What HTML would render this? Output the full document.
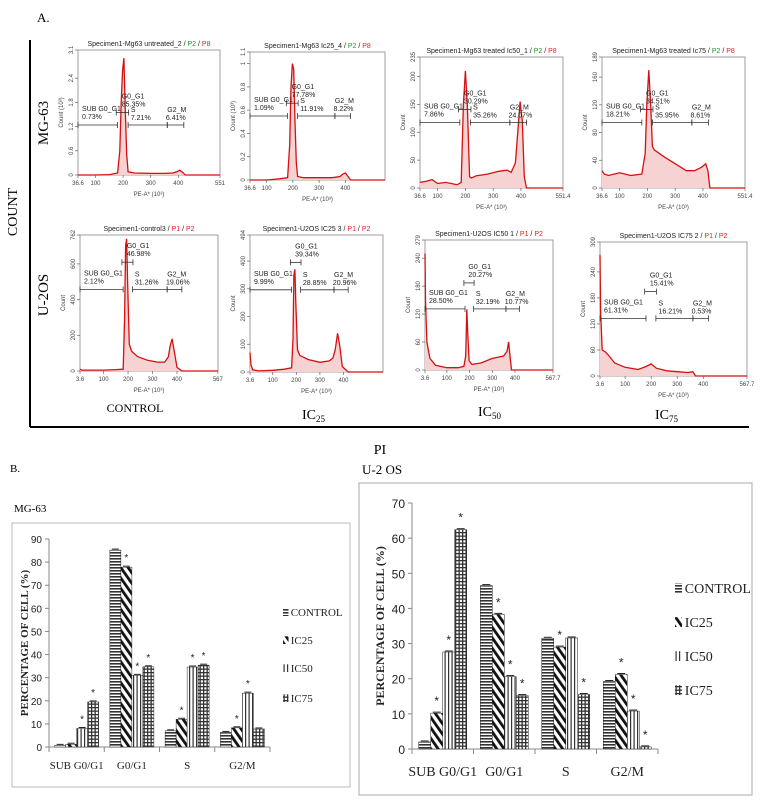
<!DOCTYPE html>
<html><head><meta charset="utf-8">
<style>
html,body{margin:0;padding:0;background:#fff;}
svg{display:block;font-family:"Liberation Sans",sans-serif;}
.serif{font-family:"Liberation Serif",serif;}
</style></head>
<body>
<svg id="fig" width="760" height="808" viewBox="0 0 760 808" xmlns="http://www.w3.org/2000/svg">
<defs>
<pattern id="pCtrl" width="4" height="3" patternUnits="userSpaceOnUse"><rect width="4" height="3" fill="#fff"/><rect width="4" height="1.6" fill="#333"/></pattern>
<pattern id="pIc25" width="6" height="6" patternUnits="userSpaceOnUse" patternTransform="rotate(-35)"><rect width="6" height="6" fill="#fff"/><rect width="2.8" height="6" fill="#111"/></pattern>
<pattern id="pIc50" width="3.5" height="4" patternUnits="userSpaceOnUse"><rect width="3.5" height="4" fill="#fff"/><rect width="1.2" height="4" fill="#333"/></pattern>
<pattern id="pIc75" width="3.5" height="3.5" patternUnits="userSpaceOnUse"><rect width="3.5" height="3.5" fill="#fff"/><rect width="1.3" height="3.5" fill="#333"/><rect width="3.5" height="1.3" fill="#333"/></pattern>
</defs>
<g id="panelA">
<text x="37" y="22" class="serif" font-size="13">A.</text>
<line x1="30" y1="40" x2="30" y2="427" stroke="#000" stroke-width="2"/>
<line x1="30" y1="427" x2="749" y2="427" stroke="#000" stroke-width="2"/>
<text transform="translate(17,212) rotate(-90)" text-anchor="middle" class="serif" font-size="14">COUNT</text>
<text transform="translate(48,123) rotate(-90)" text-anchor="middle" class="serif" font-size="15">MG-63</text>
<text transform="translate(48,295) rotate(-90)" text-anchor="middle" class="serif" font-size="15">U-2OS</text>
<text x="380" y="454" text-anchor="middle" class="serif" font-size="14">PI</text>
<text x="135" y="412" text-anchor="middle" class="serif" font-size="12">CONTROL</text>
<text x="302" y="419" class="serif" font-size="14">IC<tspan font-size="9" dy="3">25</tspan></text>
<text x="478" y="416" class="serif" font-size="14">IC<tspan font-size="9" dy="3">50</tspan></text>
<text x="655" y="419" class="serif" font-size="14">IC<tspan font-size="9" dy="3">75</tspan></text>
</g>
<g id="hists"></g>
<g id="panelB">
<text x="10" y="472" class="serif" font-size="11">B.</text>
<text x="14" y="512" class="serif" font-size="11">MG-63</text>
<text x="362" y="474" class="serif" font-size="13">U-2 OS</text>
<rect x="12" y="523" width="338" height="264" fill="none" stroke="#bbb"/>
<rect x="359" y="483" width="393" height="312" fill="none" stroke="#aaa"/>
</g>
<g id="bars"></g>
</svg>
<script>
// ---------- Histogram data (PE-A x 10^3 vs count) ----------
const h1x=[36.6,100,150,180,188,193,198,203,208,213,218,240,300,350,380,395,405,415,425,551];
const h1y=[0,0,0.01,0.05,0.6,1.8,2.6,2.9,1.6,0.5,0.08,0.05,0.04,0.04,0.05,0.08,0.12,0.07,0,0];
const h2x=[36.6,100,150,180,188,193,198,203,208,213,218,240,300,350,380,390,400,410,420,551];
const h2y=[0,0,0.01,0.02,0.3,0.8,1.0,0.95,0.5,0.15,0.03,0.02,0.02,0.02,0.03,0.05,0.06,0.03,0,0];
const h3x=[36.6,60,80,100,130,170,185,193,200,207,215,222,240,280,320,350,365,380,390,397,405,412,420,551];
const h3y=[10,12,15,8,10,6,10,150,210,150,20,18,22,25,30,32,28,45,110,155,120,20,0,0];
const h4x=[36.6,45,60,100,140,180,192,198,205,212,218,225,260,300,340,370,395,410,418,425,551];
const h4y=[25,20,18,22,18,20,50,120,170,120,60,55,45,35,25,25,30,35,25,0,0];
const h5x=[3.6,10,100,150,180,186,190,194,198,205,215,240,280,320,350,365,372,380,388,400,420,567.7];
const h5y=[10,5,5,8,10,300,700,740,500,150,110,80,60,50,50,80,140,180,120,20,0,0];
const h6x=[3.6,8,15,40,100,150,180,186,190,194,198,205,215,250,300,340,355,365,375,385,395,420,567.7];
const h6y=[70,25,8,4,6,10,15,120,350,370,250,80,60,45,35,40,50,80,140,90,20,0,0];
const h7x=[3.6,6,12,25,50,100,150,175,183,188,192,198,210,250,300,330,350,365,372,378,385,567.7];
const h7y=[250,150,60,25,10,5,5,8,30,130,80,20,12,15,25,28,30,40,60,30,0,0];
const h8x=[3.6,6,12,25,40,60,100,150,180,200,220,260,300,340,360,370,567.7];
const h8y=[280,150,60,55,45,30,20,15,22,28,18,12,10,8,10,0,0];

const histSvg=document.getElementById('hists');
const NS='http://www.w3.org/2000/svg';
function mk(tag,attrs,parent){const e=document.createElementNS(NS,tag);for(const k in attrs)e.setAttribute(k,attrs[k]);(parent||histSvg).appendChild(e);return e;}
function txt(x,y,s,size,parent,anchor,fill){const t=mk('text',{x:x,y:y,'font-size':size,'text-anchor':anchor||'start',fill:fill||'#222'},parent);t.textContent=s;return t;}

const panels=[
 {box:[78,50,142,125],xmin:36.6,xmax:551,ymax:3.1,yt:[0,0.6,1.2,1.8,2.4,3.1],yl:"Count (10\u00b3)",xt:[36.6,100,200,300,400,551],xs:h1x,ys:h1y,title:["Specimen1-Mg63 untreated_2 / ","P2","P8"],g2:"green",lv:0.4,lab:["0.73%","85.35%","7.21%","6.41%"]},
 {box:[250,52,135,128],xmin:36.6,xmax:551,ymax:1.1,yt:[0,0.2,0.4,0.6,0.8,1,1.1],yl:"Count (10\u00b3)",xt:[36.6,100,200,300,400],xs:h2x,ys:h2y,title:["Specimen1-Mg63 Ic25_4 / ","P2","P8"],g2:"green",lv:0.5,lab:["1.09%","77.78%","11.91%","8.22%"]},
 {box:[420,57,143,131],xmin:36.6,xmax:551.4,ymax:235,yt:[0,50,100,150,200,235],yl:"Count",xt:[36.6,100,200,300,400,551.4],xs:h3x,ys:h3y,title:["Specimen1-Mg63 treated Ic50_1 / ","P2","P8"],g2:"green",lv:0.5,lab:["7.86%","30.29%","35.26%","24.07%"]},
 {box:[602,57,143,131],xmin:36.6,xmax:551.4,ymax:189,yt:[0,40,80,120,160,189],yl:"Count",xt:[36.6,100,200,300,400,551.4],xs:h4x,ys:h4y,title:["Specimen1-Mg63 treated Ic75 / ","P2","P8"],g2:"green",lv:0.5,lab:["18.21%","34.51%","35.95%","8.61%"]},
 {box:[80,235,138,136],xmin:3.6,xmax:567.7,ymax:762,yt:[0,200,400,600,762],yl:"Count",xt:[3.6,100,200,300,400,567],xs:h5x,ys:h5y,title:["Specimen1-control3 / ","P1","P2"],g2:"red",lv:0.6,lab:["2.12%","46.98%","31.26%","19.06%"]},
 {box:[250,235,133,137],xmin:3.6,xmax:567.7,ymax:494,yt:[0,100,200,300,400,494],yl:"Count",xt:[3.6,100,200,300,400],xs:h6x,ys:h6y,title:["Specimen1-U2OS IC25 3 / ","P1","P2"],g2:"red",lv:0.6,lab:["9.99%","39.34%","28.85%","20.96%"]},
 {box:[425,240,128,130],xmin:3.6,xmax:567.7,ymax:279,yt:[0,60,120,180,240,279],yl:"Count",xt:[3.6,100,200,300,400,567.7],xs:h7x,ys:h7y,title:["Specimen1-U2OS IC50 1 / ","P1","P2"],g2:"red",lv:0.47,lab:["28.50%","20.27%","32.19%","10.77%"]},
 {box:[600,242,147,134],xmin:3.6,xmax:567.7,ymax:309,yt:[0,60,120,180,240,309],yl:"Count",xt:[3.6,100,200,300,400,567.7],xs:h8x,ys:h8y,title:["Specimen1-U2OS IC75 2 / ","P1","P2"],g2:"red",lv:0.43,lab:["61.31%","15.41%","16.21%","0.53%"]}
];

panels.forEach((p,i)=>{
  const [x0,y0,w,h]=p.box;
  const sx=v=>x0+(v-p.xmin)/(p.xmax-p.xmin)*w;
  const sy=v=>y0+h-v/p.ymax*h;
  const g=mk('g',{});
  
  
  const t=mk('text',{x:x0+w/2,y:y0-4,'font-size':7,'text-anchor':'middle',fill:'#222'},g);
  
  
  const a=document.createElementNS(NS,'tspan');a.textContent=p.title[0];t.appendChild(a);
  const b=document.createElementNS(NS,'tspan');b.textContent=p.title[1];b.setAttribute('fill',p.g2==='green'?'#1a9a2a':'#e02020');t.appendChild(b);
  const c=document.createElementNS(NS,'tspan');c.textContent=' / ';t.appendChild(c);
  const d=document.createElementNS(NS,'tspan');d.textContent=p.title[2];d.setAttribute('fill','#e02020');t.appendChild(d);
  const fr=mk('rect',{x:x0,y:y0,width:w,height:h,fill:'none',stroke:'#888','stroke-width':0.8},g);
  
  
  let pts=p.xs.map((v,k)=>sx(v).toFixed(1)+','+sy(p.ys[k]).toFixed(1));
  const area=mk('polygon',{points:sx(p.xs[0])+','+sy(0)+' '+pts.join(' ')+' '+sx(p.xs[p.xs.length-1])+','+sy(0),fill:'#f6d2d2',stroke:'none'},g);
  
  
  const ln=mk('polyline',{points:pts.join(' '),fill:'none',stroke:'#d41010','stroke-width':1.3},g);
  
  
  p.yt.forEach(v=>{
    mk('line',{x1:x0-3,x2:x0,y1:sy(v),y2:sy(v),stroke:'#666','stroke-width':0.7},g);
    const tl=txt(0,0,String(v),6,g,'middle','#444');
    tl.setAttribute('transform','translate('+(x0-5)+','+sy(v)+') rotate(-90)');
  });
  p.xt.forEach(v=>{
    mk('line',{x1:sx(v),x2:sx(v),y1:y0+h,y2:y0+h+3,stroke:'#666','stroke-width':0.7},g);
    txt(sx(v),y0+h+10,String(v),6,g,'middle','#444');
  });
  txt(x0+w/2,y0+h+21,'PE-A* (10\u00b3)',6,g,'middle','#444');
  const yl=txt(0,0,p.yl,6,g,'middle','#444');
  yl.setAttribute('transform','translate('+(x0-15)+','+(y0+h/2)+') rotate(-90)');
  const gy=y0+h*(1-p.lv);
  const seg=(a1,a2,yy)=>{mk('line',{x1:sx(a1),x2:sx(a2),y1:yy,y2:yy,stroke:'#333','stroke-width':0.8},g);
    mk('line',{x1:sx(a1),x2:sx(a1),y1:yy-3,y2:yy+3,stroke:'#333','stroke-width':0.8},g);
    mk('line',{x1:sx(a2),x2:sx(a2),y1:yy-3,y2:yy+3,stroke:'#333','stroke-width':0.8},g);};
  seg(p.xmin,180,gy);seg(218,360,gy);seg(360,420,gy);
  const g1y=i>=4?gy-h*0.2:gy-h*0.1;
  seg(175,220,g1y);
  txt(x0+4,gy-14,'SUB G0_G1',7,g);txt(x0+4,gy-6,p.lab[0],7,g);
  txt(sx(195),g1y-14,'G0_G1',7,g);txt(sx(195),g1y-6,p.lab[1],7,g);
  txt(sx(228),gy-13,'S',7,g);txt(sx(228),gy-5,p.lab[2],7,g);
  txt(sx(360),gy-13,'G2_M',7,g);txt(sx(355),gy-5,p.lab[3],7,g);
});

// ---------- Bar chart data ----------
const categories=["SUB G0/G1","G0/G1","S","G2/M"];
const seriesNames=["CONTROL","IC25","IC50","IC75"];
const mgControl=[0.7,85.2,7.0,6.3];
const mgIc25=[1.2,77.8,12.0,8.3];
const mgIc50=[8.0,31.0,34.6,23.3];
const mgIc75=[19.5,34.7,35.4,7.8];
const mgStars=[[0,0,1,1],[0,1,1,1],[0,1,1,1],[0,1,1,0]];
const mgTicks=[0,10,20,30,40,50,60,70,80,90];
const uControl=[2.0,46.5,31.5,19.2];
const uIc25=[10.2,38.3,29.0,21.2];
const uIc50=[27.6,20.6,31.6,10.8];
const uIc75=[62.4,15.2,15.5,0.6];
const uStars=[[0,1,1,1],[0,1,1,1],[0,1,0,1],[0,1,1,1]];
const uTicks=[0,10,20,30,40,50,60,70];
const fills=['url(#pCtrl)','url(#pIc25)','url(#pIc50)','url(#pIc75)'];

const barsG=document.getElementById('bars');
function barChart(o){
  const g=mk('g',{},barsG);
  
  
  const yS=v=>o.y0-(v/o.ymax)*(o.y0-o.yTop);
  const catW=(o.xEnd-o.x0)/categories.length;
  const xS=(ci,si)=>o.x0+ci*catW+(catW-4*o.bw)/2+si*o.bw;
  mk('line',{x1:o.x0,x2:o.x0,y1:o.yTop,y2:o.y0,stroke:'#888','stroke-width':1},g);
  mk('line',{x1:o.x0,x2:o.xEnd,y1:o.y0,y2:o.y0,stroke:'#888','stroke-width':1},g);
  o.ticks.forEach(v=>{
    mk('line',{x1:o.x0-4,x2:o.x0,y1:yS(v),y2:yS(v),stroke:'#888'},g);
    const t=txt(o.x0-7,yS(v)+o.fs/2-1,String(v),o.fs,g,'end','#222');
    
    
  });
  for(let c=0;c<=categories.length;c++){mk('line',{x1:o.x0+c*catW,x2:o.x0+c*catW,y1:o.y0,y2:o.y0+5,stroke:'#888'},g);}
  categories.forEach((cn,ci)=>{
    const t=txt(o.x0+(ci+0.5)*catW,o.y0+o.catDy,cn,o.cfs,g,'middle','#222');
    t.setAttribute('class','serif');
    
    
    o.series.forEach((arr,si)=>{
      const v=arr[ci];const x=xS(ci,si);
      const r=mk('rect',{x:x,y:yS(v),width:o.bw,height:o.y0-yS(v),fill:fills[si],stroke:'#222','stroke-width':0.5},g);
      
      
      mk('line',{x1:x+2,x2:x+o.bw-2,y1:yS(v)-1,y2:yS(v)-1,stroke:'#222','stroke-width':1},g);
      if(o.stars[ci][si]){const s=txt(x+o.bw/2,yS(v)-o.starDy,'*',o.fs,g,'middle','#222');
        
        }
    });
  });
  const yt=txt(0,0,'PERCENTAGE  OF CELL (%)',o.tfs,g,'middle','#222');
  yt.setAttribute('class','serif');yt.setAttribute('font-weight','bold');
  yt.setAttribute('transform','translate('+o.titleX+','+((o.y0+o.yTop)/2)+') rotate(-90)');
  
  
  seriesNames.forEach((n,si)=>{
    const ly=o.legY[si];
    const sw=mk('rect',{x:o.legX,y:ly-o.lfs*0.7,width:o.lfs*0.5,height:o.lfs*0.7,fill:fills[si]},g);
    
    
    const t=txt(o.legX+o.lfs*0.7,ly,n,o.lfs,g,'start','#222');
    t.setAttribute('class','serif');
    
    
  });
}
barChart({name:'mg63-bar-chart',x0:49,xEnd:270,y0:747,yTop:539,ymax:90,bw:11,ticks:mgTicks,fs:10,cfs:11,catDy:22,tfs:11,titleX:28,
  series:[mgControl,mgIc25,mgIc50,mgIc75],stars:mgStars,starDy:6,legX:283,legY:[616,644,672,702],lfs:11});
barChart({name:'u2os-bar-chart',x0:412,xEnd:658,y0:749,yTop:503,ymax:70,bw:12,ticks:uTicks,fs:12,cfs:14,catDy:27,tfs:12,titleX:384,
  series:[uControl,uIc25,uIc50,uIc75],stars:uStars,starDy:8,legX:675,legY:[593,627,661,695],lfs:14});
</script>
</body></html>
